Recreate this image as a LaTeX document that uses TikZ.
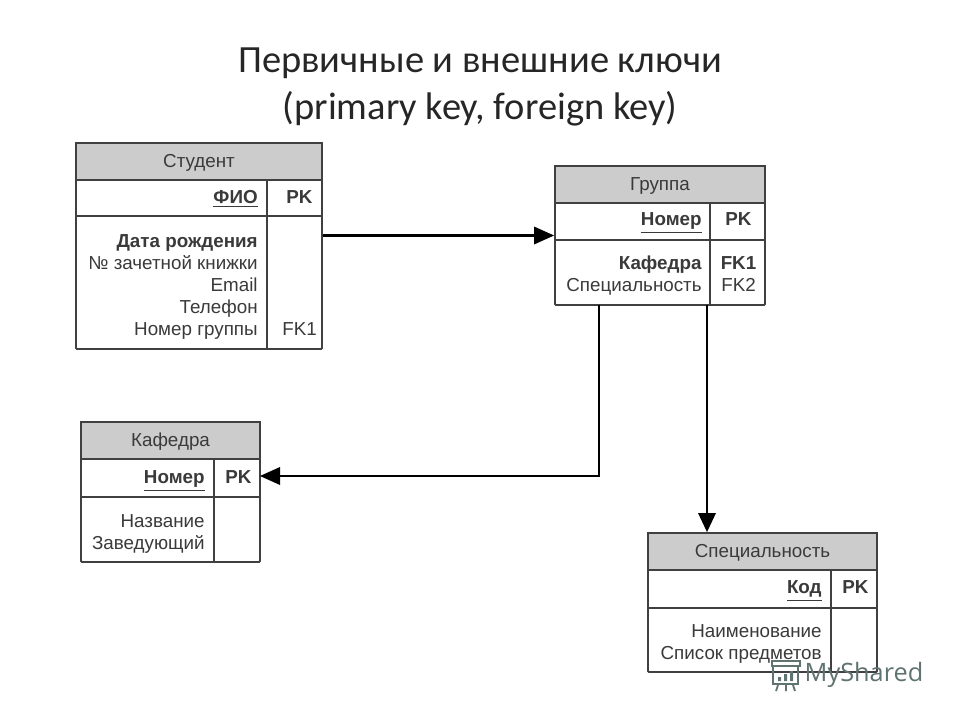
\documentclass[tikz,border=0pt]{standalone}
\usepackage{fontspec}
\setmainfont{Liberation Sans}
\newfontfamily\titlefont{Carlito}
\newfontfamily\markfont{Open Sans}
\definecolor{headgray}{HTML}{CCCCCC}
\definecolor{linegray}{HTML}{404040}
\definecolor{textgray}{HTML}{3A3A3A}
\definecolor{markgreen}{HTML}{5F7470}
\tikzset{
  tablebox/.style={draw=linegray,line width=1.1pt,fill=white,inner sep=0pt,rounded corners=0.5pt},
  headcell/.style={draw=linegray,line width=1.1pt,fill=headgray,inner sep=0pt,font=\fontsize{10.7}{12}\selectfont,text=textgray,text height=8.6pt,text depth=1.9pt},
  rowline/.style={draw=linegray,line width=1.1pt},
  fieldtext/.style={anchor=east,inner sep=0pt,font=\fontsize{10.7}{12}\selectfont,text=textgray,text height=8pt,text depth=2.5pt},
  keytext/.style={anchor=center,inner sep=0pt,font=\fontsize{10.7}{12}\selectfont,text=textgray,text height=8pt,text depth=2.5pt},
  titletext/.style={inner sep=0pt,font=\titlefont\fontsize{21.9}{26}\selectfont,text=black!85,text height=15pt,text depth=4pt},
  link/.style={draw=black,line width=1.2pt},
  linktip/.style={fill=black,draw=none},
}
\begin{document}
\begin{tikzpicture}[x=0.02cm,y=-0.02cm]
  \useasboundingbox (0,0) rectangle (960,720);
  \node[titletext] (title1) at (480,63) {Первичные и внешние ключи};
  \node[titletext] (title2) at (480,110) {(primary key, foreign key)};

  % Student
  \node[tablebox,minimum width=4.92cm,minimum height=4.12cm] (student) at (199,246) {};
  \node[headcell,minimum width=4.92cm,minimum height=0.74cm] (studenthead) at (199,161.5) {Студент};
  \draw[rowline] (76,216) -- (322,216);
  \draw[rowline] (267,180) -- (267,349);
  \node[fieldtext] (studentkey) at (258,199) {\underline{\textbf{ФИО}}};
  \node[keytext] (studentpk) at (299.5,199) {\textbf{PK}};
  \node[fieldtext] (studentf1) at (258,243) {\textbf{Дата рождения}};
  \node[fieldtext] (studentf2) at (258,265) {№ зачетной книжки};
  \node[fieldtext] (studentf3) at (258,287) {Email};
  \node[fieldtext] (studentf4) at (258,309) {Телефон};
  \node[fieldtext] (studentf5) at (258,331) {Номер группы};
  \node[keytext] (studentfk) at (299.5,331) {FK1};

  % Group
  \node[tablebox,minimum width=4.2cm,minimum height=2.78cm] (group) at (660,235.5) {};
  \node[headcell,minimum width=4.2cm,minimum height=0.74cm] (grouphead) at (660,184.5) {Группа};
  \draw[rowline] (555,240) -- (765,240);
  \draw[rowline] (710,203) -- (710,305);
  \node[fieldtext] (groupkey) at (702,221) {\underline{\textbf{Номер}}};
  \node[keytext] (grouppk) at (738.5,221) {\textbf{PK}};
  \node[fieldtext] (groupf1) at (702,265) {\textbf{Кафедра}};
  \node[fieldtext] (groupf2) at (702,287) {Специальность};
  \node[keytext] (groupfk1) at (738.5,265) {\textbf{FK1}};
  \node[keytext] (groupfk2) at (738.5,287) {FK2};

  % Department
  \node[tablebox,minimum width=3.58cm,minimum height=2.8cm] (dept) at (170.5,492) {};
  \node[headcell,minimum width=3.58cm,minimum height=0.74cm] (depthead) at (170.5,440.5) {Кафедра};
  \draw[rowline] (81,497) -- (260,497);
  \draw[rowline] (214,459) -- (214,562);
  \node[fieldtext] (deptkey) at (205,479) {\underline{\textbf{Номер}}};
  \node[keytext] (deptpk) at (238.5,479) {\textbf{PK}};
  \node[fieldtext] (deptf1) at (205,523) {Название};
  \node[fieldtext] (deptf2) at (205,545) {Заведующий};
  \coordinate (deptin) at (260,476);

  % Speciality
  \node[tablebox,minimum width=4.58cm,minimum height=2.78cm] (spec) at (762.5,602.5) {};
  \node[headcell,minimum width=4.58cm,minimum height=0.74cm] (spechead) at (762.5,551.5) {Специальность};
  \draw[rowline] (648,608) -- (877,608);
  \draw[rowline] (831,570) -- (831,672);
  \node[fieldtext] (speckey) at (822,589) {\underline{\textbf{Код}}};
  \node[keytext] (specpk) at (855.5,589) {\textbf{PK}};
  \node[fieldtext] (specf1) at (822,633) {Наименование};
  \node[fieldtext] (specf2) at (822,655) {Список предметов};

  % links
  \coordinate (groupout1) at (599,305);
  \coordinate (groupout2) at (707,305);
  \draw[link] (student.east |- group.west) -- ([xshift=-5pt]group.west);
  \fill[linktip] (group.west) -- ++(-20,-9) -- ++(0,18) -- cycle;
  \draw[link] (groupout1) |- ([xshift=5pt]deptin);
  \fill[linktip] (deptin) -- ++(20,-9) -- ++(0,18) -- cycle;
  \draw[link] (groupout2) -- ([yshift=5pt]groupout2 |- spec.north);
  \fill[linktip] (groupout2 |- spec.north) -- ++(-9,-19) -- ++(18,0) -- cycle;

  % watermark
  \begin{scope}[draw=markgreen,line width=1pt]
    \draw (772,661) rectangle (800,666);
    \draw (773,666) -- (773,684) -- (798,684) -- (798,666);
    \fill[markgreen] (778,677) rectangle (781,681) (784,674) rectangle (787,681) (790,671) rectangle (793,681);
    \draw (778,685) -- (776,691) (786,685) -- (786,691) (793,685) -- (795,691);
  \end{scope}
  \node[inner sep=0pt,font=\markfont\fontsize{14.4}{18}\selectfont,text=markgreen] (watermark) at (864,675) {MyShared};
\end{tikzpicture}
\end{document}
